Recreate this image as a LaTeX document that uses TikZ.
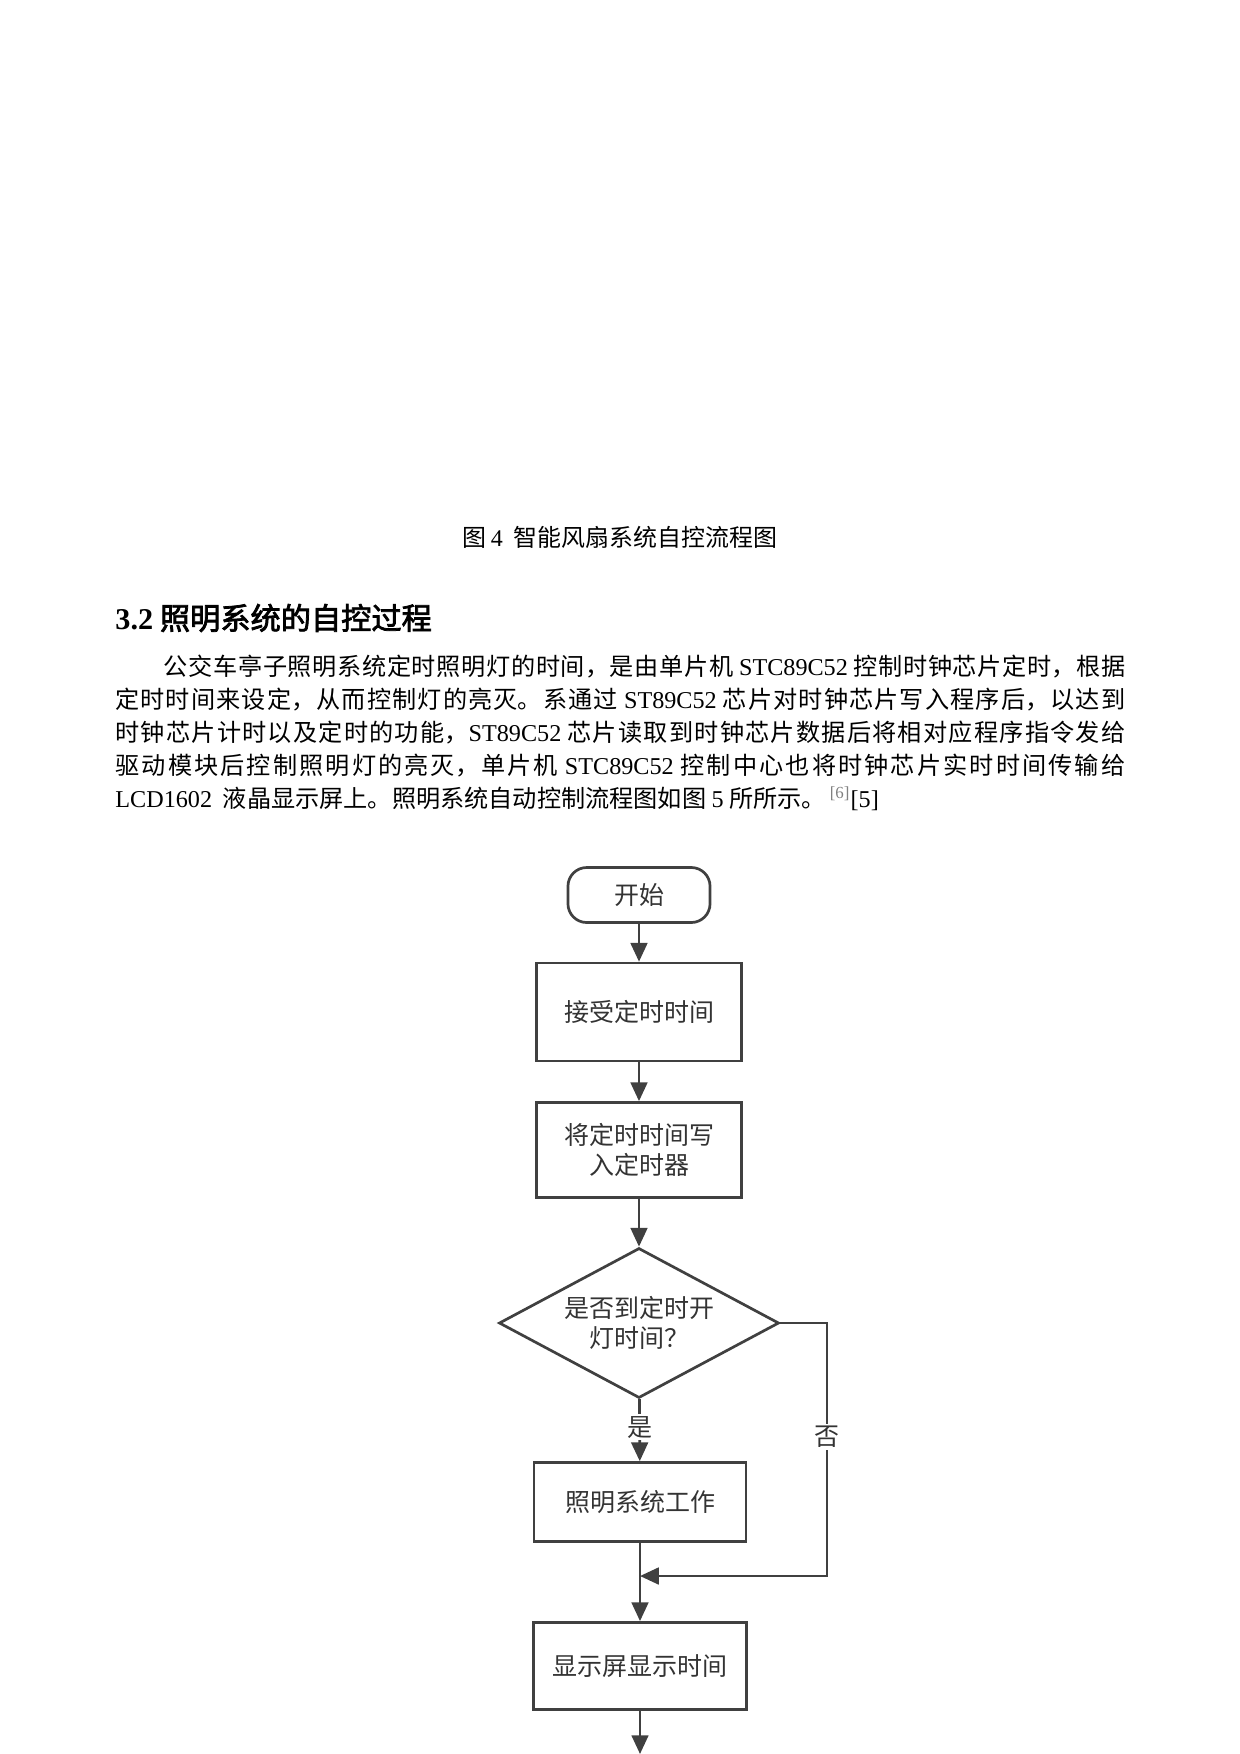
\documentclass[tikz,border=0pt]{standalone}
\usepackage{fontspec}
\setmainfont{Noto Sans CJK SC}
\newfontfamily\enf{Liberation Serif}
\newfontfamily\headf{Noto Sans CJK SC}[FakeBold=2.5]
\newcommand\entxt[1]{{\enf #1}}
\XeTeXlinebreaklocale "zh"
\XeTeXlinebreakskip=0pt plus 2pt
\usetikzlibrary{arrows.meta,shapes.geometric}
\definecolor{linegray}{HTML}{404040}
\definecolor{textgray}{HTML}{333333}

\begin{document}
\begin{tikzpicture}[x=.48pt, y=-.48pt,
    flow/.style={draw=linegray, line width=1.3pt, text=textgray,
      font=\fontsize{12}{14.6}\selectfont, align=center, inner sep=0pt},
    procbox/.style={flow, rectangle, minimum width=98.4pt},
    arr/.style={draw=linegray, line width=1.3pt,
      -{Triangle[width=8pt,length=9pt]}},
    lbl/.style={fill=white, text=textgray, inner sep=1pt,
      font=\fontsize{12}{14.6}\selectfont}]
  \useasboundingbox (0,0) rectangle (1240,1754);

  % text above the chart
  \node (cap) at (620,537) {\fontsize{11.5}{14}\selectfont 图\,\entxt{4} \ 智能风扇系统自控流程图};
  \node[anchor=west, inner sep=0pt] (head) at (115,618)
    {\fontsize{14.5}{18}\selectfont{\enf\bfseries 3.2} \headf 照明系统的自控过程};
  \node[anchor=north west, inner sep=0pt, text width=484.8pt, align=justify,
    font=\fontsize{11.6}{15.84}\selectfont] (para) at (115,655)
    {\tolerance=9999\hspace*{2em}公交车亭子照明系统定时照明灯的时间，是由单片机 \entxt{STC89C52} 控制时钟芯片定时，根据\linebreak
     定时时间来设定，从而控制灯的亮灭。系通过 \entxt{ST89C52} 芯片对时钟芯片写入程序后，以达到\linebreak
     时钟芯片计时以及定时的功能，\entxt{ST89C52} 芯片读取到时钟芯片数据后将相对应程序指令发给\linebreak
     驱动模块后控制照明灯的亮灭，单片机 \entxt{STC89C52} 控制中心也将时钟芯片实时时间传输给\linebreak
     \entxt{LCD1602}\ \ 液晶显示屏上。照明系统自动控制流程图如图 \entxt{5} 所所示。\,\textsuperscript{\color{gray}\entxt{[6]}}\entxt{[5]}};

  % flow chart
  \node[flow, rectangle, rounded corners=9pt, minimum width=68.2pt, minimum height=26.4pt] (start) at (639,895) {开始};
  \node[procbox, minimum height=47pt] (recv) at (639,1012) {接受定时时间};
  \node[procbox, minimum height=45.6pt] (write) at (639,1150) {将定时时间写\\入定时器};
  \node[flow, diamond, aspect=1.87, minimum width=134.4pt, minimum height=72pt] (check) at (639,1323) {是否到定时开\\灯时间？};
  \node[procbox, minimum width=101.8pt, minimum height=37.9pt] (work) at (640,1502) {照明系统工作};
  \node[procbox, minimum width=102.2pt, minimum height=41.8pt] (show) at (640,1666) {显示屏显示时间};

  \coordinate (turn) at (827,1576);
  \coordinate (merge) at (640,1576);
  \coordinate (out) at (640,1754);

  \draw[arr] (start) -- (recv);
  \draw[arr] (recv) -- (write);
  \draw[arr] (write) -- (check);
  \draw[arr] (check) -- node[lbl, pos=.45] (yes) {是} (work);
  \draw[arr] (check.east) -| (turn) -- (merge);
  \node[lbl] (no) at (827,1437) {否};
  \draw[arr] (work) -- (show);
  \draw[arr] (show) -- (out);

\end{tikzpicture}
\end{document}
